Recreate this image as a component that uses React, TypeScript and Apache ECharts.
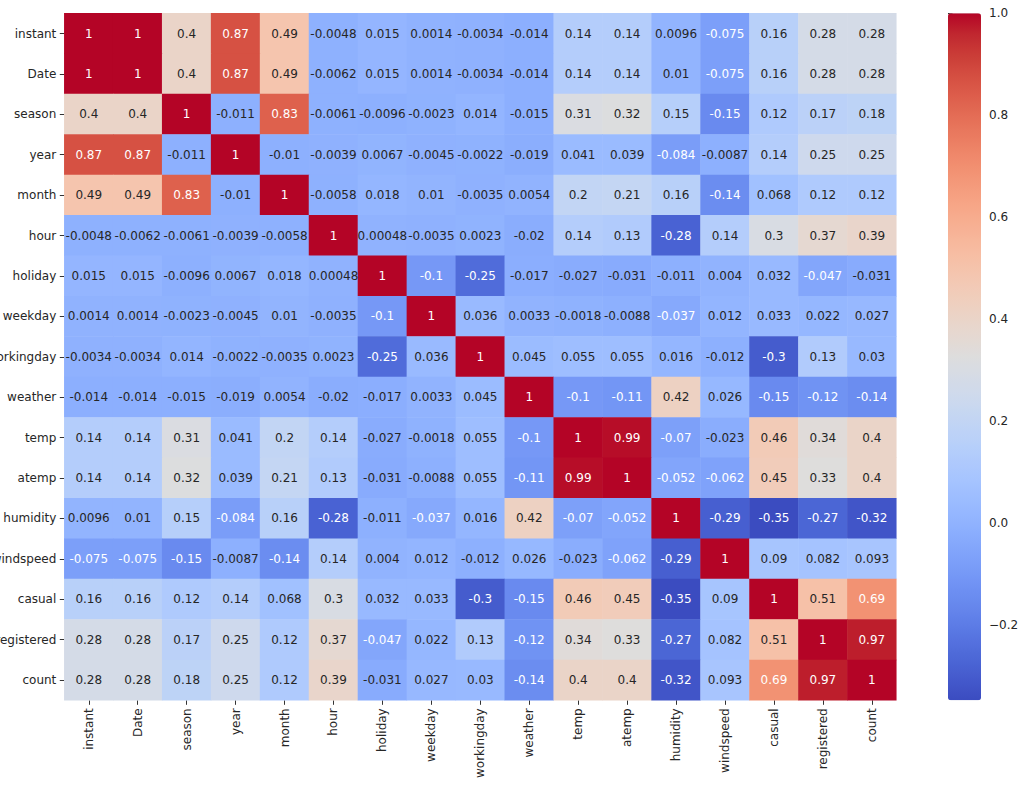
import React, { useEffect, useRef } from "react";
import * as echarts from "echarts";

const variables = [
  "instant", "Date", "season", "year", "month", "hour", "holiday", "weekday",
  "workingday", "weather", "temp", "atemp", "humidity", "windspeed", "casual",
  "registered", "count",
];

const rowInstant = [1, 1, 0.4, 0.87, 0.49, -0.0048, 0.015, 0.0014, -0.0034, -0.014, 0.14, 0.14, 0.0096, -0.075, 0.16, 0.28, 0.28];
const rowDate = [1, 1, 0.4, 0.87, 0.49, -0.0062, 0.015, 0.0014, -0.0034, -0.014, 0.14, 0.14, 0.01, -0.075, 0.16, 0.28, 0.28];
const rowSeason = [0.4, 0.4, 1, -0.011, 0.83, -0.0061, -0.0096, -0.0023, 0.014, -0.015, 0.31, 0.32, 0.15, -0.15, 0.12, 0.17, 0.18];
const rowYear = [0.87, 0.87, -0.011, 1, -0.01, -0.0039, 0.0067, -0.0045, -0.0022, -0.019, 0.041, 0.039, -0.084, -0.0087, 0.14, 0.25, 0.25];
const rowMonth = [0.49, 0.49, 0.83, -0.01, 1, -0.0058, 0.018, 0.01, -0.0035, 0.0054, 0.2, 0.21, 0.16, -0.14, 0.068, 0.12, 0.12];
const rowHour = [-0.0048, -0.0062, -0.0061, -0.0039, -0.0058, 1, 0.00048, -0.0035, 0.0023, -0.02, 0.14, 0.13, -0.28, 0.14, 0.3, 0.37, 0.39];
const rowHoliday = [0.015, 0.015, -0.0096, 0.0067, 0.018, 0.00048, 1, -0.1, -0.25, -0.017, -0.027, -0.031, -0.011, 0.004, 0.032, -0.047, -0.031];
const rowWeekday = [0.0014, 0.0014, -0.0023, -0.0045, 0.01, -0.0035, -0.1, 1, 0.036, 0.0033, -0.0018, -0.0088, -0.037, 0.012, 0.033, 0.022, 0.027];
const rowWorkingday = [-0.0034, -0.0034, 0.014, -0.0022, -0.0035, 0.0023, -0.25, 0.036, 1, 0.045, 0.055, 0.055, 0.016, -0.012, -0.3, 0.13, 0.03];
const rowWeather = [-0.014, -0.014, -0.015, -0.019, 0.0054, -0.02, -0.017, 0.0033, 0.045, 1, -0.1, -0.11, 0.42, 0.026, -0.15, -0.12, -0.14];
const rowTemp = [0.14, 0.14, 0.31, 0.041, 0.2, 0.14, -0.027, -0.0018, 0.055, -0.1, 1, 0.99, -0.07, -0.023, 0.46, 0.34, 0.4];
const rowAtemp = [0.14, 0.14, 0.32, 0.039, 0.21, 0.13, -0.031, -0.0088, 0.055, -0.11, 0.99, 1, -0.052, -0.062, 0.45, 0.33, 0.4];
const rowHumidity = [0.0096, 0.01, 0.15, -0.084, 0.16, -0.28, -0.011, -0.037, 0.016, 0.42, -0.07, -0.052, 1, -0.29, -0.35, -0.27, -0.32];
const rowWindspeed = [-0.075, -0.075, -0.15, -0.0087, -0.14, 0.14, 0.004, 0.012, -0.012, 0.026, -0.023, -0.062, -0.29, 1, 0.09, 0.082, 0.093];
const rowCasual = [0.16, 0.16, 0.12, 0.14, 0.068, 0.3, 0.032, 0.033, -0.3, -0.15, 0.46, 0.45, -0.35, 0.09, 1, 0.51, 0.69];
const rowRegistered = [0.28, 0.28, 0.17, 0.25, 0.12, 0.37, -0.047, 0.022, 0.13, -0.12, 0.34, 0.33, -0.27, 0.082, 0.51, 1, 0.97];
const rowCount = [0.28, 0.28, 0.18, 0.25, 0.12, 0.39, -0.031, 0.027, 0.03, -0.14, 0.4, 0.4, -0.32, 0.093, 0.69, 0.97, 1];

const corrRows = [
  rowInstant, rowDate, rowSeason, rowYear, rowMonth, rowHour, rowHoliday, rowWeekday,
  rowWorkingday, rowWeather, rowTemp, rowAtemp, rowHumidity, rowWindspeed, rowCasual,
  rowRegistered, rowCount,
];

const colorMin = -0.347;
const colorMax = 1.0;
const colorbarTicks = [-0.2, 0.0, 0.2, 0.4, 0.6, 0.8, 1.0];

// matplotlib "coolwarm" (Moreland diverging map)
const coolwarm: number[][] = [
  [59, 76, 192], [68, 90, 204], [77, 104, 215], [87, 117, 225], [98, 130, 234],
  [108, 142, 241], [119, 154, 247], [130, 165, 251], [141, 176, 254], [152, 185, 255],
  [163, 194, 255], [174, 201, 253], [184, 208, 249], [194, 213, 244], [204, 217, 238],
  [213, 219, 230], [221, 221, 221], [229, 216, 209], [236, 211, 197], [241, 204, 185],
  [245, 196, 173], [247, 187, 160], [247, 177, 148], [247, 166, 135], [244, 154, 123],
  [241, 141, 111], [236, 127, 99], [229, 112, 88], [222, 96, 77], [213, 80, 66],
  [203, 62, 56], [192, 40, 47], [180, 4, 38],
];

function toHex(c: number[]) {
  return "#" + c.map((v) => Math.round(v).toString(16).padStart(2, "0")).join("");
}

function cmap(v: number): number[] {
  let t = (v - colorMin) / (colorMax - colorMin);
  t = Math.max(0, Math.min(1, t));
  const pos = t * (coolwarm.length - 1);
  const i = Math.min(coolwarm.length - 2, Math.floor(pos));
  const f = pos - i;
  const a = coolwarm[i];
  const b = coolwarm[i + 1];
  return [0, 1, 2].map((k) => a[k] + (b[k] - a[k]) * f);
}

function luminance(rgb: number[]) {
  const lin = rgb.map((c) => {
    const s = c / 255;
    return s <= 0.03928 ? s / 12.92 : Math.pow((s + 0.055) / 1.055, 2.4);
  });
  return 0.2126 * lin[0] + 0.7152 * lin[1] + 0.0722 * lin[2];
}

const FONT = "DejaVu Sans";

export default function App() {
  const ref = useRef<HTMLDivElement>(null);

  useEffect(() => {
    if (!ref.current) return;
    const chart = echarts.init(ref.current, undefined, { renderer: "svg" });

    const data: any[] = [];
    corrRows.forEach((row, i) => {
      row.forEach((v, j) => {
        const lum = luminance(cmap(v));
        data.push({
          value: [j, i, v],
          label: { color: lum < 0.408 ? "#ffffff" : "#262626" },
        });
      });
    });

    chart.setOption({
      animation: false,
      backgroundColor: "#ffffff",
      textStyle: { fontFamily: FONT },
      grid: [
        { left: 64.3, top: 13.3, width: 832, height: 687, containLabel: false, outerBoundsMode: "none" },
        { left: 948, top: 13.3, width: 33, height: 687, containLabel: false, outerBoundsMode: "none" },
      ],
      xAxis: [
        {
          type: "category",
          gridIndex: 0,
          data: variables,
          axisLine: { show: false },
          axisTick: { show: true, alignWithLabel: true, length: 4.5, lineStyle: { color: "#333", width: 1 } },
          axisLabel: {
            rotate: 90,
            interval: 0,
            margin: 8,
            fontSize: 12,
            color: "#262626",
            fontFamily: FONT,
          },
          splitLine: { show: false },
        },
        { type: "value", gridIndex: 1, show: false, min: 0, max: 1 },
      ],
      yAxis: [
        {
          type: "category",
          gridIndex: 0,
          data: variables,
          inverse: true,
          axisLine: { show: false },
          axisTick: { show: true, alignWithLabel: true, length: 4.5, lineStyle: { color: "#333", width: 1 } },
          axisLabel: {
            interval: 0,
            margin: 8,
            fontSize: 12,
            color: "#262626",
            fontFamily: FONT,
          },
          splitLine: { show: false },
        },
        {
          type: "value",
          gridIndex: 1,
          min: colorMin,
          max: colorMax,
          position: "right",
          axisLine: { show: false },
          splitLine: { show: false },
          axisTick: {
            show: true,
            length: 4.5,
            customValues: colorbarTicks,
            lineStyle: { color: "#333", width: 1 },
          },
          axisLabel: {
            customValues: colorbarTicks,
            margin: 8,
            fontSize: 12,
            color: "#262626",
            fontFamily: FONT,
            formatter: (v: number) => v.toFixed(1).replace("-", "\u2212"),
          },
        },
      ],
      visualMap: {
        type: "continuous",
        min: colorMin,
        max: colorMax,
        dimension: 2,
        seriesIndex: 0,
        calculable: false,
        hoverLink: false,
        orient: "vertical",
        left: 948,
        top: 13.3,
        padding: 0,
        itemWidth: 33,
        itemHeight: 687,
        text: null,
        showLabel: false,
        inRange: { color: coolwarm.map(toHex) },
      },
      series: [
        {
          type: "heatmap",
          xAxisIndex: 0,
          yAxisIndex: 0,
          data,
          itemStyle: { borderWidth: 0 },
          label: {
            show: true,
            fontSize: 12,
            fontFamily: FONT,
            formatter: (p: any) => String(p.value[2]),
          },
          emphasis: { disabled: true },
        },
      ],
    });

    return () => chart.dispose();
  }, []);

  return (
    <div
      ref={ref}
      style={{ position: "absolute", left: 0, top: 0, width: 1024, height: 793 }}
    />
  );
}
